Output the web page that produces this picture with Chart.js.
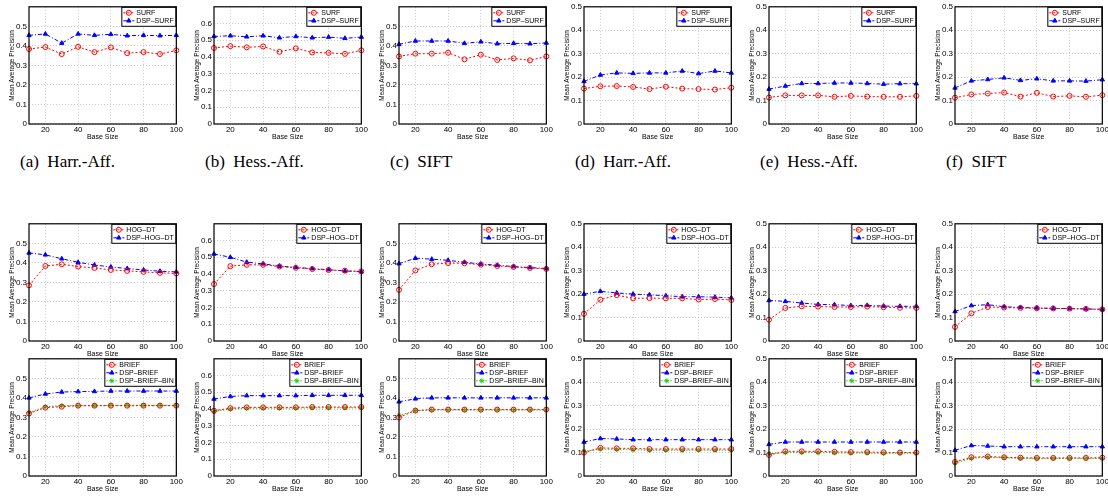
<!DOCTYPE html>
<html>
<head>
<meta charset="utf-8">
<script src="https://cdn.jsdelivr.net/npm/chart.js@4.4.0/dist/chart.umd.min.js"></script>
<style>
  body { margin: 0; width: 1108px; height: 498px; overflow: hidden; background: #fff; position: relative; }
  canvas { position: absolute; }
  .cap { position: absolute; top: 152px; font-family: "Liberation Serif", "DejaVu Serif", serif; font-size: 17px; white-space: pre; color: #000; }
</style>
</head>
<body>
<script>
// base sizes on the x axis
var baseSize = [10, 20, 30, 40, 50, 60, 70, 80, 90, 100];
var xTicks = [20, 40, 60, 80, 100];

// row 1: SURF
var surfHarr     = [0.384, 0.394, 0.358, 0.395, 0.368, 0.392, 0.363, 0.368, 0.358, 0.377];
var dspSurfHarr  = [0.454, 0.461, 0.414, 0.461, 0.454, 0.459, 0.452, 0.454, 0.452, 0.454];
var surfHess     = [0.454, 0.465, 0.458, 0.463, 0.431, 0.452, 0.427, 0.425, 0.419, 0.440];
var dspSurfHess  = [0.523, 0.527, 0.521, 0.527, 0.515, 0.523, 0.515, 0.519, 0.512, 0.519];
var surfSift     = [0.346, 0.360, 0.360, 0.365, 0.331, 0.355, 0.328, 0.336, 0.326, 0.346];
var dspSurfSift  = [0.408, 0.425, 0.425, 0.425, 0.413, 0.421, 0.411, 0.413, 0.411, 0.415];
var surfHarr2    = [0.151, 0.161, 0.162, 0.158, 0.149, 0.159, 0.151, 0.149, 0.147, 0.155];
var dspSurfHarr2 = [0.182, 0.209, 0.218, 0.216, 0.218, 0.218, 0.226, 0.215, 0.226, 0.218];
var surfHess2    = [0.113, 0.122, 0.122, 0.122, 0.116, 0.120, 0.117, 0.116, 0.116, 0.120];
var dspSurfHess2 = [0.149, 0.162, 0.173, 0.173, 0.175, 0.175, 0.173, 0.170, 0.172, 0.172];
var surfSift2    = [0.112, 0.126, 0.130, 0.134, 0.117, 0.133, 0.117, 0.120, 0.116, 0.123];
var dspSurfSift2 = [0.154, 0.184, 0.190, 0.197, 0.186, 0.193, 0.184, 0.184, 0.183, 0.189];

// row 2: HOG-DT
var hogHarr     = [0.285, 0.384, 0.393, 0.381, 0.374, 0.364, 0.359, 0.354, 0.349, 0.346];
var dspHogHarr  = [0.451, 0.441, 0.421, 0.403, 0.389, 0.379, 0.371, 0.364, 0.357, 0.354];
var hogHess     = [0.340, 0.447, 0.455, 0.455, 0.445, 0.437, 0.430, 0.424, 0.420, 0.416];
var dspHogHess  = [0.520, 0.500, 0.471, 0.461, 0.447, 0.440, 0.432, 0.426, 0.418, 0.414];
var hogSift     = [0.262, 0.361, 0.393, 0.399, 0.398, 0.391, 0.384, 0.379, 0.374, 0.369];
var dspHogSift  = [0.396, 0.424, 0.419, 0.413, 0.403, 0.394, 0.388, 0.381, 0.376, 0.371];
var hogHarr2    = [0.116, 0.176, 0.196, 0.182, 0.183, 0.182, 0.182, 0.177, 0.179, 0.175];
var dspHogHarr2 = [0.200, 0.212, 0.205, 0.200, 0.197, 0.193, 0.189, 0.189, 0.187, 0.184];
var hogHess2    = [0.091, 0.141, 0.148, 0.147, 0.145, 0.145, 0.147, 0.144, 0.142, 0.141];
var dspHogHess2 = [0.173, 0.169, 0.162, 0.156, 0.155, 0.151, 0.152, 0.149, 0.148, 0.148];
var hogSift2    = [0.060, 0.118, 0.145, 0.143, 0.141, 0.140, 0.139, 0.138, 0.137, 0.135];
var dspHogSift2 = [0.126, 0.151, 0.155, 0.146, 0.143, 0.141, 0.139, 0.138, 0.137, 0.135];

// row 3: BRIEF
var briefHarr      = [0.320, 0.350, 0.355, 0.360, 0.360, 0.360, 0.360, 0.360, 0.360, 0.360];
var dspBriefHarr   = [0.400, 0.420, 0.430, 0.432, 0.433, 0.435, 0.435, 0.435, 0.435, 0.435];
var binHarr        = [0.325, 0.355, 0.360, 0.360, 0.360, 0.362, 0.362, 0.362, 0.362, 0.362];
var briefHess      = [0.390, 0.405, 0.410, 0.410, 0.410, 0.410, 0.412, 0.412, 0.412, 0.412];
var dspBriefHess   = [0.460, 0.475, 0.480, 0.480, 0.480, 0.480, 0.482, 0.482, 0.482, 0.482];
var binHess        = [0.385, 0.400, 0.405, 0.405, 0.405, 0.405, 0.407, 0.407, 0.407, 0.407];
var briefSift      = [0.300, 0.335, 0.340, 0.340, 0.340, 0.340, 0.340, 0.340, 0.340, 0.340];
var dspBriefSift   = [0.380, 0.395, 0.400, 0.400, 0.400, 0.400, 0.400, 0.400, 0.400, 0.400];
var binSift        = [0.310, 0.335, 0.338, 0.338, 0.338, 0.338, 0.338, 0.338, 0.338, 0.338];
var briefHarr2     = [0.100, 0.120, 0.118, 0.118, 0.115, 0.115, 0.115, 0.115, 0.115, 0.115];
var dspBriefHarr2  = [0.145, 0.160, 0.158, 0.155, 0.155, 0.155, 0.155, 0.155, 0.155, 0.155];
var binHarr2       = [0.105, 0.115, 0.113, 0.112, 0.110, 0.110, 0.110, 0.110, 0.110, 0.110];
var briefHess2     = [0.090, 0.105, 0.105, 0.105, 0.103, 0.102, 0.102, 0.101, 0.100, 0.100];
var dspBriefHess2  = [0.135, 0.145, 0.145, 0.145, 0.145, 0.145, 0.145, 0.145, 0.145, 0.145];
var binHess2       = [0.095, 0.100, 0.100, 0.100, 0.099, 0.098, 0.098, 0.097, 0.097, 0.097];
var briefSift2     = [0.060, 0.080, 0.083, 0.080, 0.078, 0.077, 0.077, 0.077, 0.077, 0.078];
var dspBriefSift2  = [0.110, 0.130, 0.128, 0.125, 0.125, 0.125, 0.125, 0.125, 0.125, 0.125];
var binSift2       = [0.055, 0.075, 0.080, 0.078, 0.075, 0.075, 0.075, 0.075, 0.075, 0.075];

var captions = ["(a)  Harr.-Aff.", "(b)  Hess.-Aff.", "(c)  SIFT", "(d)  Harr.-Aff.", "(e)  Hess.-Aff.", "(f)  SIFT"];
var yMaxes = [0.6, 0.7, 0.6, 0.5, 0.5, 0.5];

var colLeft = [0, 185, 370, 555, 740, 926];
var rowTop = [0, 217, 352];

var RED = "#ff0000", BLUE = "#0000ff", GREEN = "#1ecc1e";
var sansFont = '"Liberation Sans", Arial, sans-serif';

function redSet(label, data) {
    return { label: label, data: data, borderColor: RED, borderDash: [2, 2],
        pointStyle: "circle", pointBackgroundColor: "rgba(255,255,255,0)", pointBorderColor: RED };
}
function blueSet(label, data) {
    return { label: label, data: data, borderColor: BLUE, borderDash: [4, 2, 1, 2],
        pointStyle: "triangle", pointBackgroundColor: BLUE, pointBorderColor: BLUE };
}
function greenSet(label, data) {
    return { label: label, data: data, borderColor: GREEN, borderDash: [1.5, 1.5],
        pointStyle: "star", pointBackgroundColor: GREEN, pointBorderColor: GREEN };
}

var rows = [
    [[surfHarr, dspSurfHarr], [surfHess, dspSurfHess], [surfSift, dspSurfSift],
     [surfHarr2, dspSurfHarr2], [surfHess2, dspSurfHess2], [surfSift2, dspSurfSift2]],
    [[hogHarr, dspHogHarr], [hogHess, dspHogHess], [hogSift, dspHogSift],
     [hogHarr2, dspHogHarr2], [hogHess2, dspHogHess2], [hogSift2, dspHogSift2]],
    [[briefHarr, dspBriefHarr, binHarr], [briefHess, dspBriefHess, binHess], [briefSift, dspBriefSift, binSift],
     [briefHarr2, dspBriefHarr2, binHarr2], [briefHess2, dspBriefHess2, binHess2], [briefSift2, dspBriefSift2, binSift2]]
];

function makeDatasets(r, series) {
    if (r === 0) return [redSet("SURF", series[0]), blueSet("DSP–SURF", series[1])];
    if (r === 1) return [redSet("HOG–DT", series[0]), blueSet("DSP–HOG–DT", series[1])];
    return [redSet("BRIEF", series[0]), blueSet("DSP–BRIEF", series[1]), greenSet("DSP–BRIEF–BIN", series[2])];
}

// legend drawn inside the top-right corner of the axes, matlab style
var insideLegend = {
    id: "insideLegend",
    afterDatasetsDraw: function (chart) {
        var ctx = chart.ctx, a = chart.chartArea;
        var sets = chart.data.datasets;
        ctx.save();
        ctx.font = "7px " + sansFont;
        var tw = 0;
        sets.forEach(function (d) { tw = Math.max(tw, ctx.measureText(d.label).width); });
        var rowH = 8, w = Math.round(tw + 18), h = sets.length * rowH + 4;
        var x0 = a.right - w, y0 = a.top;
        ctx.fillStyle = "#fff";
        ctx.fillRect(x0, y0, w, h);
        ctx.strokeStyle = "#000";
        ctx.lineWidth = 1;
        ctx.strokeRect(x0 + 0.5, y0 + 0.5, w - 1, h - 1);
        sets.forEach(function (d, i) {
            var cy = y0 + 2 + rowH * i + rowH / 2;
            ctx.strokeStyle = d.borderColor;
            ctx.setLineDash(d.borderDash);
            ctx.beginPath();
            ctx.moveTo(x0 + 2, cy);
            ctx.lineTo(x0 + 13, cy);
            ctx.stroke();
            ctx.setLineDash([]);
            ctx.fillStyle = d.pointBackgroundColor;
            ctx.strokeStyle = d.pointBorderColor;
            Chart.helpers.drawPoint(ctx, { pointStyle: d.pointStyle, radius: 2.5, borderWidth: 1, rotation: 0 }, x0 + 7.5, cy);
            ctx.fillStyle = "#000";
            ctx.textBaseline = "middle";
            ctx.textAlign = "left";
            ctx.fillText(d.label, x0 + 15, cy + 0.5);
        });
        ctx.restore();
    }
};

var axesBox = {
    id: "axesBox",
    afterDraw: function (chart) {
        var ctx = chart.ctx, a = chart.chartArea;
        ctx.save();
        ctx.strokeStyle = "#000";
        ctx.lineWidth = 1.2;
        ctx.strokeRect(a.left, a.top, a.right - a.left, a.bottom - a.top);
        ctx.restore();
    }
};

function criarGrafico(r, c) {
    var canvas = document.createElement("canvas");
    canvas.width = 184;
    canvas.height = 142;
    canvas.style.left = colLeft[c] + "px";
    canvas.style.top = rowTop[r] + "px";
    document.body.appendChild(canvas);

    var yMax = yMaxes[c];
    var datasets = makeDatasets(r, rows[r][c]).map(function (d) {
        d.data = baseSize.map(function (x, i) { return { x: x, y: d.data[i] }; });
        d.borderWidth = 1;
        d.pointRadius = 2.5;
        d.pointBorderWidth = 1;
        d.fill = false;
        d.tension = 0;
        d.clip = false;
        return d;
    });

    new Chart(canvas, {
        type: "line",
        data: { datasets: datasets },
        plugins: [insideLegend, axesBox],
        options: {
            responsive: false,
            animation: false,
            devicePixelRatio: 1,
            layout: { padding: { top: 5, right: 3, left: 0, bottom: 0 } },
            plugins: { legend: { display: false }, tooltip: { enabled: false } },
            scales: {
                x: {
                    type: "linear", min: 10, max: 100,
                    afterBuildTicks: function (scale) {
                        scale.ticks = xTicks.map(function (v) { return { value: v }; });
                    },
                    afterFit: function (scale) { scale.height = 18; },
                    grid: { color: "#bdbdbd", lineWidth: 0.8, drawTicks: false },
                    border: { display: false, dash: [1, 2] },
                    ticks: { padding: 1, maxRotation: 0, autoSkip: false, color: "#000",
                        font: { family: sansFont, size: 8 } },
                    title: { display: true, text: "Base Size", color: "#000",
                        font: { family: sansFont, size: 7 }, padding: { top: 0, bottom: 1 } }
                },
                y: {
                    min: 0, max: yMax,
                    afterFit: function (scale) { scale.width = 29; },
                    grid: { color: "#bdbdbd", lineWidth: 0.8, drawTicks: false },
                    border: { display: false, dash: [1, 2] },
                    ticks: { stepSize: 0.1, padding: 2, color: "#000",
                        font: { family: sansFont, size: 8 },
                        callback: function (v) {
                            if (yMax > 0.5 && Math.abs(v - yMax) < 1e-6) return "";
                            return Math.abs(v) < 1e-9 ? "0" : v.toFixed(1);
                        } },
                    title: { display: true, text: "Mean Average Precision", color: "#000",
                        font: { family: sansFont, size: 6.5 }, padding: { top: 8, bottom: 0 } }
                }
            }
        }
    });
}

for (var r = 0; r < 3; r++) {
    for (var c = 0; c < 6; c++) {
        criarGrafico(r, c);
    }
}

captions.forEach(function (t, c) {
    var d = document.createElement("div");
    d.className = "cap";
    d.textContent = t;
    d.style.left = (colLeft[c] + 20) + "px";
    document.body.appendChild(d);
});
</script>
</body>
</html>
